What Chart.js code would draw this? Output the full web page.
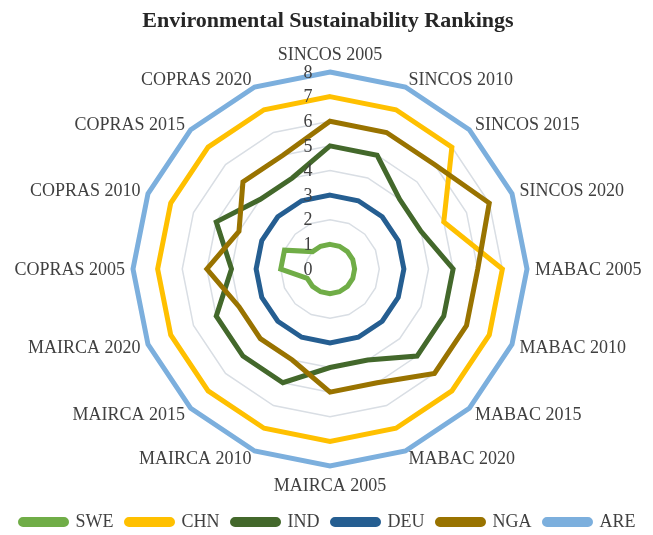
<!DOCTYPE html>
<html>
<head>
<meta charset="utf-8">
<script src="https://cdn.jsdelivr.net/npm/chart.js@4.4.1/dist/chart.umd.min.js"></script>
<style>
  body { margin: 0; background: #fff; }
  #chart-box { width: 653px; height: 535px; }
</style>
</head>
<body>
<div id="chart-box"><canvas id="rank-chart"></canvas></div>
<script>
// methods x years, clockwise from the top
const categories = [
    'SINCOS 2005', 'SINCOS 2010', 'SINCOS 2015', 'SINCOS 2020',
    'MABAC 2005', 'MABAC 2010', 'MABAC 2015', 'MABAC 2020',
    'MAIRCA 2005', 'MAIRCA 2010', 'MAIRCA 2015', 'MAIRCA 2020',
    'COPRAS 2005', 'COPRAS 2010', 'COPRAS 2015', 'COPRAS 2020'
];

const sweRank = [1, 1, 1, 1, 1, 1, 1, 1, 1, 1, 1, 1, 2, 2, 1, 1];
const chnRank = [7, 7, 7, 5, 7, 7, 7, 7, 7, 7, 7, 7, 7, 7, 7, 7];
const indRank = [5, 5, 4, 4, 5, 5, 5, 4, 4, 5, 5, 5, 4, 5, 4, 4];
const deuRank = [3, 3, 3, 3, 3, 3, 3, 3, 3, 3, 3, 3, 3, 3, 3, 3];
const ngaRank = [6, 6, 6, 7, 6, 6, 6, 5, 5, 4, 4, 4, 5, 4, 5, 5];
const areRank = [8, 8, 8, 8, 8, 8, 8, 8, 8, 8, 8, 8, 8, 8, 8, 8];

const rankMin = 0;
const rankMax = 8;

const serif = '"Liberation Serif", "Times New Roman", serif';
const textGrey = '#404040';

function series(label, data, color, idx) {
    return {
        label: label,
        data: data,
        borderColor: color,
        backgroundColor: color,
        borderWidth: 5,
        pointRadius: 0,
        pointHoverRadius: 0,
        fill: false,
        order: 10 - idx   // later series painted on top
    };
}

// tick numbers sit just left of the vertical spoke
const tickLabels = {
    id: 'tickLabels',
    afterDatasetsDraw(chart) {
        let r = chart.scales.r;
        let ctx = chart.ctx;
        ctx.save();
        ctx.font = '18px ' + serif;
        ctx.fillStyle = textGrey;
        ctx.textAlign = 'center';
        ctx.textBaseline = 'middle';
        r.ticks.forEach(t => {
            let d = r.getDistanceFromCenterForValue(t.value);
            ctx.fillText(String(t.value), r.xCenter - 22, r.yCenter - d + 1);
        });
        ctx.restore();
    }
};

// category names: vertically centred on their spoke, pushed sideways
const outerLabels = {
    id: 'outerLabels',
    afterDraw(chart) {
        let r = chart.scales.r;
        let ctx = chart.ctx;
        let n = chart.data.labels.length;
        ctx.save();
        ctx.font = '18px ' + serif;
        ctx.fillStyle = textGrey;
        chart.data.labels.forEach((name, i) => {
            let a = 2 * Math.PI * i / n;
            let s = Math.sin(a), c = Math.cos(a);
            let p = r.getPointPosition(i, r.drawingArea + 8);
            let y = p.y;
            if (Math.abs(s) < 0.01) {
                ctx.textAlign = 'center';
                ctx.textBaseline = c > 0 ? 'bottom' : 'top';
                if (c < 0) y += 3;
            } else {
                ctx.textAlign = s > 0 ? 'left' : 'right';
                ctx.textBaseline = 'middle';
                y += 1;
            }
            ctx.fillText(name, p.x, y);
        });
        ctx.restore();
    }
};

let ctx = document.getElementById('rank-chart').getContext('2d');

let rankChart = new Chart(ctx, {
    type: 'radar',
    data: {
        labels: categories,
        datasets: [
            series('SWE', sweRank, '#70AD47', 0),
            series('CHN', chnRank, '#FFC000', 1),
            series('IND', indRank, '#43682B', 2),
            series('DEU', deuRank, '#255E91', 3),
            series('NGA', ngaRank, '#997300', 4),
            series('ARE', areRank, '#7CAFDD', 5)
        ]
    },
    options: {
        responsive: true,
        maintainAspectRatio: false,
        animation: false,
        layout: { padding: { left: 3, right: 0, top: 0, bottom: -6 } },
        plugins: {
            title: {
                display: true,
                text: 'Environmental Sustainability Rankings',
                color: '#262626',
                font: { family: serif, size: 22, weight: 'bold' },
                padding: { top: 8, bottom: 4 }
            },
            legend: {
                position: 'bottom',
                labels: {
                    sort: (a, b) => a.datasetIndex - b.datasetIndex,
                    color: textGrey,
                    font: { family: serif, size: 18 },
                    boxWidth: 46,
                    boxHeight: 5,
                    useBorderRadius: true,
                    borderRadius: 2.5,
                    padding: 13
                }
            },
            tooltip: { enabled: false }
        },
        scales: {
            r: {
                min: rankMin,
                max: rankMax,
                ticks: { stepSize: 1, display: false },
                angleLines: { display: false },
                grid: { color: '#D9DEE4', lineWidth: 1.5 },
                pointLabels: {
                    // sized for layout only, drawn by outerLabels
                    color: 'rgba(0,0,0,0)',
                    font: { family: serif, size: 18 },
                    padding: 12
                }
            }
        }
    },
    plugins: [tickLabels, outerLabels]
});
</script>
</body>
</html>
